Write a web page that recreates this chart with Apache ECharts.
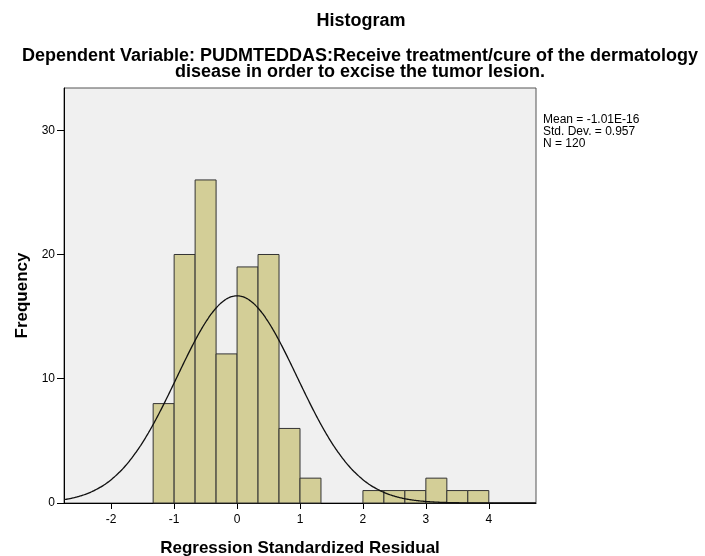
<!DOCTYPE html>
<html>
<head>
<meta charset="utf-8">
<script src="https://cdn.jsdelivr.net/npm/echarts@6/dist/echarts.min.js"></script>
<style>
  html, body { margin: 0; padding: 0; background: #fff; }
  #chart { width: 705px; height: 556px; }
</style>
</head>
<body>
<div id="chart"></div>
<script>
// bins of the residual histogram (width 1/3)
const binStarts = [-4 / 3, -1, -2 / 3, -1 / 3, 0, 1 / 3, 2 / 3, 1, 2, 7 / 3, 8 / 3, 3, 10 / 3, 11 / 3]
const binCounts = [8, 20, 26, 12, 19, 20, 6, 2, 1, 1, 1, 2, 1, 1]
const binWidth = 1 / 3
const xTicks = [-2, -1, 0, 1, 2, 3, 4]
const yTicks = [0, 10, 20, 30]
// stats printed beside the plot
const mean = -1.01e-16
const sd = 0.957
const n = 120

const font = 'Arial, "Liberation Sans", sans-serif'

const bars = binStarts.map((s, i) => [s, s + binWidth, binCounts[i]])

// normal curve scaled to the histogram counts
const curve = []
for (let x = -2.75; x <= 4.75; x += 0.02) {
  const z = (x - mean) / sd
  curve.push([x, n * binWidth * Math.exp(-0.5 * z * z) / (sd * Math.sqrt(2 * Math.PI))])
}

const chart = echarts.init(document.getElementById('chart'))
chart.setOption({
  animation: false,
  title: [
    {
      text: 'Histogram',
      left: 356, top: 7, textAlign: 'center',
      textStyle: { fontFamily: font, fontSize: 18, fontWeight: 'bold', color: '#000' },
    },
    {
      text: 'Dependent Variable: PUDMTEDDAS:Receive treatment/cure of the dermatology\ndisease in order to excise the tumor lesion.',
      left: 355, top: 43, textAlign: 'center',
      textStyle: { fontFamily: font, fontSize: 18, fontWeight: 'bold', color: '#000', lineHeight: 16, align: 'center' },
    },
  ],
  graphic: [
    {
      type: 'text', left: 543, top: 114,
      style: {
        text: 'Mean = -1.01E-16\nStd. Dev. = 0.957\nN = 120',
        font: '12px ' + font, fill: '#000', lineHeight: 12,
      },
    },
  ],
  grid: {
    left: 64, right: 169, top: 88, bottom: 53,
    outerBoundsMode: 'none',
    show: true, backgroundColor: '#f0f0f0', borderColor: '#555', borderWidth: 1,
  },
  xAxis: {
    type: 'value', min: -2.75, max: 4.75,
    name: 'Regression Standardized Residual', nameLocation: 'middle', nameGap: 37,
    nameTextStyle: { fontFamily: font, fontSize: 17, fontWeight: 'bold', color: '#000' },
    splitLine: { show: false },
    axisLine: { onZero: false, lineStyle: { color: '#000', width: 1 } },
    axisTick: { length: 6, lineStyle: { color: '#000' }, customValues: xTicks },
    axisLabel: { fontFamily: font, fontSize: 12, color: '#000', margin: 11, customValues: xTicks },
  },
  yAxis: {
    type: 'value', min: 0, max: 33.4,
    name: 'Frequency', nameLocation: 'middle', nameGap: 23, nameRotate: 90,
    nameTextStyle: { fontFamily: font, fontSize: 17, fontWeight: 'bold', color: '#000' },
    splitLine: { show: false },
    axisLine: { show: true, onZero: false, lineStyle: { color: '#000', width: 1 } },
    axisTick: { show: true, length: 7, lineStyle: { color: '#000' }, customValues: yTicks },
    axisLabel: { fontFamily: font, fontSize: 12, color: '#000', margin: 9, customValues: yTicks },
  },
  series: [
    {
      type: 'custom',
      data: bars,
      renderItem(params, api) {
        const p0 = api.coord([api.value(0), api.value(2)])
        const p1 = api.coord([api.value(1), 0])
        return {
          type: 'rect',
          shape: { x: p0[0], y: p0[1], width: p1[0] - p0[0], height: p1[1] - p0[1] },
          style: { fill: '#d3ce97', stroke: '#333', lineWidth: 1 },
        }
      },
    },
    {
      type: 'line',
      data: curve,
      showSymbol: false,
      smooth: true,
      lineStyle: { color: '#111', width: 1.3 },
      z: 5,
    },
  ],
})
</script>
</body>
</html>
